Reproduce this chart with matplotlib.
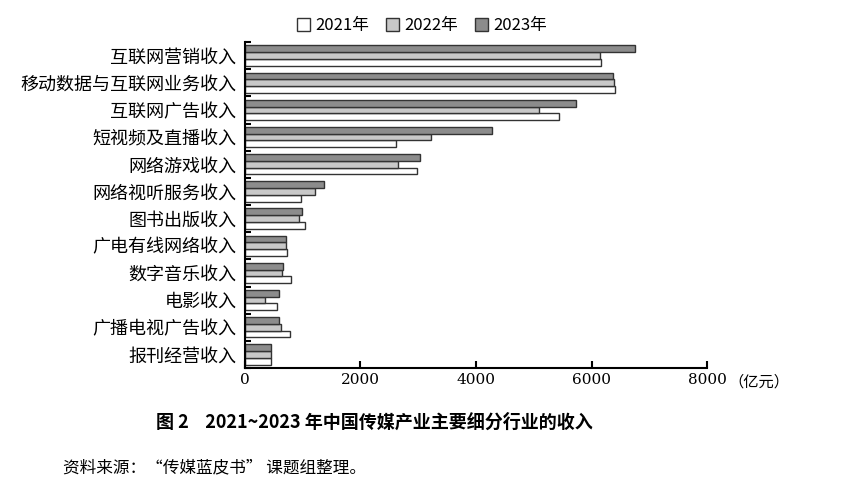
import matplotlib.pyplot as plt
import numpy as np

plt.rcParams['font.family'] = ['Noto Sans CJK SC', 'DejaVu Sans']

categories = ['互联网营销收入', '移动数据与互联网业务收入', '互联网广告收入', '短视频及直播收入',
              '网络游戏收入', '网络视听服务收入', '图书出版收入', '广电有线网络收入',
              '数字音乐收入', '电影收入', '广播电视广告收入', '报刊经营收入']
v2021 = [6160, 6400, 5430, 2620, 2980, 970, 1050, 730, 800, 550, 790, 460]
v2022 = [6140, 6390, 5090, 3220, 2650, 1210, 940, 710, 640, 350, 620, 450]
v2023 = [6750, 6370, 5730, 4280, 3030, 1370, 990, 710, 670, 600, 590, 450]
years = ['2021年', '2022年', '2023年']

fig = plt.figure(figsize=(8.44, 5), dpi=100)
ax = fig.add_axes([0.290, 0.264, 0.548, 0.652])

y = np.arange(len(categories))
h = 0.25
ax.barh(y + h, v2021, h, color='white', edgecolor='#333333', linewidth=1, label=years[0])
ax.barh(y, v2022, h, color='#c8c8c8', edgecolor='#333333', linewidth=1, label=years[1])
ax.barh(y - h, v2023, h, color='#8c8c8c', edgecolor='#333333', linewidth=1, label=years[2])

ax.set_ylim(len(categories) - 0.5, -0.5)
ax.set_xlim(0, 8000)
ax.set_yticks(y)
ax.set_yticklabels(categories, fontsize=13)
ax.set_yticks(np.arange(-0.5, len(categories), 1), minor=True)
ax.tick_params(axis='y', which='major', length=0, pad=6)
ax.tick_params(axis='y', which='minor', direction='in', length=4, width=1.5)
ax.set_xticks([0, 2000, 4000, 6000, 8000])
ax.set_xticklabels(['0', '2000', '4000', '6000', '8000'], family='DejaVu Serif', fontsize=11)
ax.tick_params(axis='x', direction='in', length=5, width=1.5)
ax.spines['top'].set_visible(False)
ax.spines['right'].set_visible(False)
ax.spines['left'].set_linewidth(1.5)
ax.spines['bottom'].set_linewidth(1.5)
ax.text(1.045, -0.018, '（亿元）', transform=ax.transAxes, ha='left', va='top', fontsize=11)

handles, labels = ax.get_legend_handles_labels()
fig.legend(handles, labels, loc='upper center', bbox_to_anchor=(0.50, 0.995), ncol=3,
           frameon=False, fontsize=12, handlelength=0.8, handleheight=0.8,
           columnspacing=1.0, handletextpad=0.3)

fig.text(0.185, 0.145, '图 2    2021~2023 年中国传媒产业主要细分行业的收入', fontsize=13, fontweight='bold')
fig.text(0.075, 0.055, '资料来源：“传媒蓝皮书” 课题组整理。', fontsize=12)

fig.savefig('out.png', dpi=100)
